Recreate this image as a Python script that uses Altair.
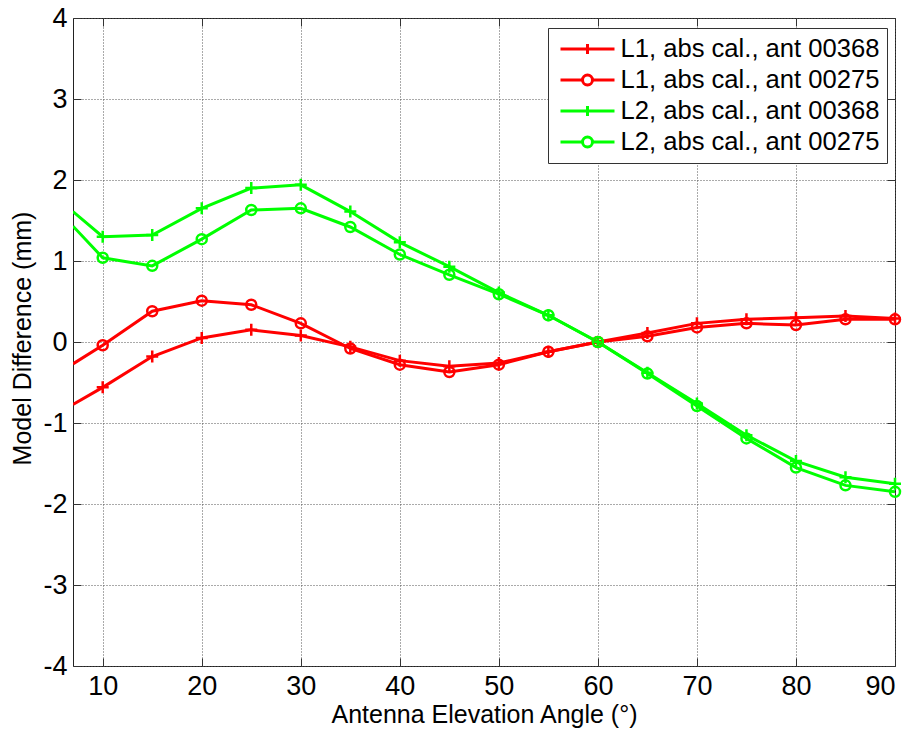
import altair as alt
import pandas as pd

angles = [7, 10, 15, 20, 25, 30, 35, 40, 45, 50, 55, 60, 65, 70, 75, 80, 85, 90]

series_names = [
    "L1, abs cal., ant 00368",
    "L1, abs cal., ant 00275",
    "L2, abs cal., ant 00368",
    "L2, abs cal., ant 00275",
]
series_bands = ["L1", "L1", "L2", "L2"]
series_markers = ["plus", "circle", "plus", "circle"]
series_colors = ["#ff0000", "#ff0000", "#00ff00", "#00ff00"]
bands = ["L1", "L2"]
band_colors = ["#ff0000", "#00ff00"]

l1_368 = [-0.77, -0.56, -0.18, 0.05, 0.15, 0.08, -0.06, -0.23, -0.30, -0.26, -0.12, 0.00, 0.11, 0.23, 0.28, 0.30, 0.32, 0.29]
l1_275 = [-0.27, -0.04, 0.38, 0.51, 0.46, 0.23, -0.08, -0.28, -0.37, -0.28, -0.12, 0.00, 0.07, 0.18, 0.23, 0.21, 0.28, 0.28]
l2_368 = [1.61, 1.30, 1.32, 1.65, 1.90, 1.94, 1.61, 1.23, 0.93, 0.61, 0.33, 0.00, -0.38, -0.76, -1.15, -1.47, -1.67, -1.75]
l2_275 = [1.43, 1.04, 0.94, 1.27, 1.63, 1.65, 1.42, 1.08, 0.83, 0.59, 0.33, 0.00, -0.39, -0.79, -1.19, -1.55, -1.77, -1.85]

x_ticks = [10, 20, 30, 40, 50, 60, 70, 80, 90]
y_ticks = [-4, -3, -2, -1, 0, 1, 2, 3, 4]

rows = []
for name, band, marker, vals in zip(series_names, series_bands, series_markers,
                                    [l1_368, l1_275, l2_368, l2_275]):
    for a, v in zip(angles, vals):
        rows.append({"angle": a, "value": v, "series": name, "band": band, "marker": marker})
df = pd.DataFrame(rows)

FONT = "Liberation Sans"
W, H = 822, 648

color_enc = alt.Color(
    "band:N",
    scale=alt.Scale(domain=bands, range=band_colors),
    legend=None,
)

xscale = alt.Scale(domain=[7, 90], nice=False, zero=False)
yscale = alt.Scale(domain=[-4, 4], nice=False)

x_main = alt.Axis(
    values=x_ticks, grid=True, gridDash=[1, 2], gridColor="#555", gridOpacity=1,
    tickSize=0, domain=False, labelFontSize=27, labelPadding=7, labelColor="#000",
    labelExpr="'' + datum.value",
    title="Antenna Elevation Angle (°)", titleFontSize=25, titleFontWeight="normal",
    titleColor="#000", titleBaseline="alphabetic", titleY=56, titleX=W / 2,
)
y_main = alt.Axis(
    values=y_ticks, grid=True, gridDash=[1, 2], gridColor="#555", gridOpacity=1,
    tickSize=0, domain=False, labelFontSize=27, labelPadding=6, labelColor="#000",
    labelExpr="'' + datum.value",
    title="Model Difference (mm)", titleFontSize=25, titleFontWeight="normal",
    titleColor="#000", titleBaseline="middle", titleX=-51, titleY=H / 2 - 4,
)


def tick_axis(values, orient):
    return alt.Axis(
        values=values, orient=orient, offset=-8, tickSize=8, tickColor="#333",
        labels=False, grid=False, domain=False, title=None,
    )


base = alt.Chart(df)

lines = base.mark_line(strokeWidth=3, clip=True).encode(
    x=alt.X("angle:Q", scale=xscale, axis=x_main),
    y=alt.Y("value:Q", scale=yscale, axis=y_main),
    color=color_enc,
    detail="series:N",
    order="angle:Q",
)

plus_path = "M-1,0L1,0M0,-1L0,1"

pts_plus = base.transform_filter(
    (alt.datum.marker == "plus") & (alt.datum.angle >= 10)
).mark_point(shape=plus_path, size=144, strokeWidth=2.5, filled=False, opacity=1).encode(
    x=alt.X("angle:Q", scale=xscale, axis=tick_axis(x_ticks, "bottom")),
    y=alt.Y("value:Q", scale=yscale, axis=tick_axis(y_ticks, "left")),
    color=color_enc,
)

pts_circle = base.transform_filter(
    (alt.datum.marker == "circle") & (alt.datum.angle >= 10)
).mark_point(shape="circle", size=100, strokeWidth=2.5, filled=False, opacity=1).encode(
    x=alt.X("angle:Q", scale=xscale, axis=tick_axis(x_ticks, "top")),
    y=alt.Y("value:Q", scale=yscale, axis=tick_axis(y_ticks, "right")),
    color=color_enc,
)

# legend symbols: a line with the marker in the middle (unit = 12.5 px)
L = 2.16   # half line length
r = 0.4    # marker radius
leg_plus = f"M-{L},0L{L},0M0,-{r}L0,{r}"
leg_circle = (
    f"M-{L},0L-{r},0M{r},0L{L},0"
    f"M-{r},0A{r},{r} 0 1,0 {r},0A{r},{r} 0 1,0 -{r},0Z"
)
legend_shapes = [leg_plus, leg_circle, leg_plus, leg_circle]

legend_props = dict(
    title=None, orient="none", legendX=475, legendY=10,
    labelFontSize=25.6, labelFont=FONT, labelColor="#000",
    symbolSize=625, symbolStrokeWidth=3, symbolOffset=18.5, labelOffset=19,
    rowPadding=3, padding=7, strokeColor="#333", fillColor="#ffffff",
    labelLimit=400,
)

legend_layer = base.transform_filter("datum.angle < 0").mark_point(
    filled=False, opacity=1, strokeWidth=3
).encode(
    x=alt.X("angle:Q", scale=xscale, axis=None),
    y=alt.Y("value:Q", scale=yscale, axis=None),
    stroke=alt.Stroke(
        "series:N",
        scale=alt.Scale(domain=series_names, range=series_colors),
        legend=alt.Legend(**legend_props),
    ),
    shape=alt.Shape(
        "series:N",
        scale=alt.Scale(domain=series_names, range=legend_shapes),
        legend=alt.Legend(**legend_props),
    ),
)

chart = alt.layer(lines, pts_plus, pts_circle, legend_layer).resolve_axis(
    x="independent", y="independent"
).properties(
    width=W,
    height=H,
    padding={"left": 73, "top": 18, "right": 16, "bottom": 65},
    autosize=alt.AutoSizeParams(type="none"),
    background="#ffffff",
).configure_view(
    stroke="#222", strokeWidth=1
).configure_axis(
    labelFont=FONT, titleFont=FONT
).configure_legend(
    labelFont=FONT
)

chart.save("out.html", embed_options={"renderer": "svg", "actions": False})
